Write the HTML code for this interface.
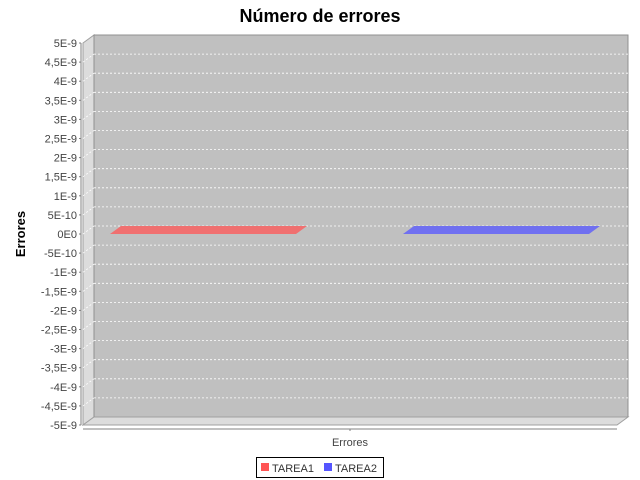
<!DOCTYPE html>
<html><head><meta charset="utf-8"><style>
body{margin:0;background:#fff;}
svg{display:block;font-family:"Liberation Sans","DejaVu Sans",sans-serif;}
</style></head><body>
<svg id="c" width="640" height="480">
<text x="320" y="22" text-anchor="middle" font-size="18" font-weight="bold">Número de errores</text>
<text transform="translate(25,234) rotate(-90)" text-anchor="middle" font-size="13" font-weight="bold">Errores</text>
</svg>
<script>
const categories=['Errores'];
const seriesNames=['TAREA1','TAREA2'];
const seriesValues=[[0],[0]];
const seriesColors=['#f07070','#7070f0'];
const tickValues=[5e-9,4.5e-9,4e-9,3.5e-9,3e-9,2.5e-9,2e-9,1.5e-9,1e-9,5e-10,0,-5e-10,-1e-9,-1.5e-9,-2e-9,-2.5e-9,-3e-9,-3.5e-9,-4e-9,-4.5e-9,-5e-9];
const tickLabels=['5E-9','4,5E-9','4E-9','3,5E-9','3E-9','2,5E-9','2E-9','1,5E-9','1E-9','5E-10','0E0','-5E-10','-1E-9','-1,5E-9','-2E-9','-2,5E-9','-3E-9','-3,5E-9','-4E-9','-4,5E-9','-5E-9'];
const svg=document.getElementById('c');
const NS='http://www.w3.org/2000/svg';
const L=83,R=617,T=43,B=425,DX=11,DY=8;
const yMin=-5e-9,yMax=5e-9;
function y(v){return B-(v-yMin)/(yMax-yMin)*(B-T);}
function mk(t,a){const e=document.createElementNS(NS,t);for(const k in a)e.setAttribute(k,a[k]);svg.appendChild(e);return e;}
let e;
e=mk('polygon',{points:`${L+DX},${T-DY} ${R+DX},${T-DY} ${R+DX},${B-DY} ${L+DX},${B-DY}`,fill:'#c0c0c0'});

e=mk('polygon',{points:`${L},${T} ${L+DX},${T-DY} ${L+DX},${B-DY} ${L},${B}`,fill:'#dcdcdc',stroke:'#a0a0a0','stroke-width':1});

e=mk('polygon',{points:`${L},${B} ${L+DX},${B-DY} ${R+DX},${B-DY} ${R},${B}`,fill:'#dcdcdc',stroke:'#a0a0a0','stroke-width':1});

e=mk('polyline',{points:`${L+DX},${B-DY} ${L+DX},${T-DY} ${R+DX},${T-DY} ${R+DX},${B-DY}`,fill:'none',stroke:'#909090','stroke-width':1});

tickValues.forEach((v,i)=>{
  const yy=y(v);
  if(i>0&&i<tickValues.length-1){
    e=mk('line',{x1:L+DX,x2:R+DX,y1:yy-DY,y2:yy-DY,stroke:'#fff','stroke-dasharray':'2,2','stroke-width':0.8});
    
    e=mk('line',{x1:L,x2:L+DX,y1:yy,y2:yy-DY,stroke:'#fff','stroke-dasharray':'2,2','stroke-width':0.8});
    
  }
  e=mk('line',{x1:L-4,x2:L-2,y1:yy,y2:yy,stroke:'#808080'});
  
  e=mk('text',{x:L-6,y:yy+4,'text-anchor':'end','font-size':11,fill:'#444'});
  e.textContent=tickLabels[i];
  
});
e=mk('line',{x1:L-2,x2:L-2,y1:T,y2:B,stroke:'#808080'});

e=mk('line',{x1:L,x2:R,y1:B+4,y2:B+4,stroke:'#808080'});

const catW=(R-L)/categories.length;
categories.forEach((c,ci)=>{
  const cx=L+catW*ci+catW/2;
  e=mk('line',{x1:cx,x2:cx,y1:B+4,y2:B+6,stroke:'#808080'});
  
  e=mk('text',{x:cx,y:446,'text-anchor':'middle','font-size':11,fill:'#444'});
  e.textContent=c;
  
  const x0=L+catW*ci+27, bw=186, gap=107;
  seriesValues.forEach((vals,si)=>{
    const bx=x0+si*(bw+gap);
    const y0=y(0),y1=y(vals[ci]);
    const top=Math.min(y0,y1),bot=Math.max(y0,y1);
    const g=document.createElementNS(NS,'g');svg.appendChild(g);
    
    
    const add=(t,a)=>{const q=document.createElementNS(NS,t);for(const k in a)q.setAttribute(k,a[k]);g.appendChild(q);return q;};
    if(bot-top>0.5){
      add('polygon',{points:`${bx+bw},${bot} ${bx+bw+DX},${bot-DY} ${bx+bw+DX},${top-DY} ${bx+bw},${top}`,fill:seriesColors[si],opacity:0.8});
      add('rect',{x:bx,y:top,width:bw,height:bot-top,fill:seriesColors[si]});
    }
    add('polygon',{points:`${bx},${top} ${bx+DX},${top-DY} ${bx+bw+DX},${top-DY} ${bx+bw},${top}`,fill:seriesColors[si]});
  });
});
e=mk('rect',{x:256.5,y:457.5,width:127,height:20,fill:'#fff',stroke:'#000'});

let lx=261;
seriesNames.forEach((n,i)=>{
  e=mk('rect',{x:lx,y:463,width:8,height:8,fill:i===0?'#ff5555':'#5555ff'});
  
  e=mk('text',{x:lx+11,y:472,'font-size':11,fill:'#333'});
  e.textContent=n;
  
  lx+=63;
});
</script>
</body></html>
